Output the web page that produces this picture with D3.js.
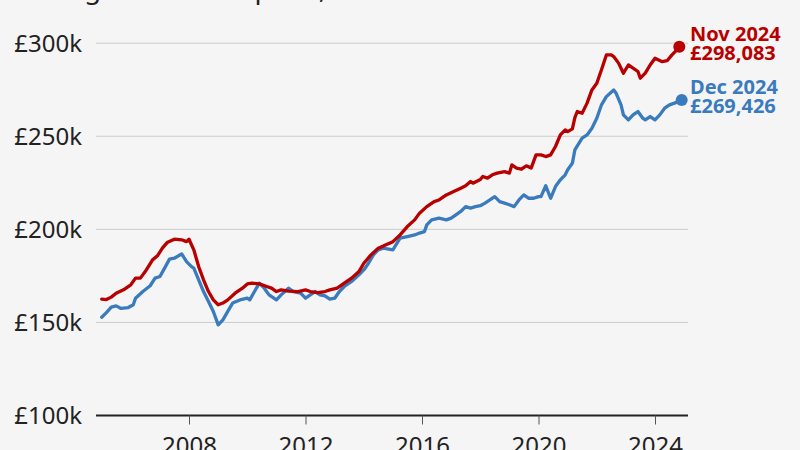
<!DOCTYPE html>
<html>
<head>
<meta charset="utf-8">
<script src="https://cdn.jsdelivr.net/npm/d3@7"></script>
<style>
  html, body { margin: 0; padding: 0; background: #f5f5f5; }
  svg { display: block; }
  text { font-family: "Noto Sans", "Open Sans", sans-serif; }
</style>
</head>
<body>
<svg id="chart" width="800" height="450"></svg>
<script>
// ---- Data (values in £ thousands) ----
const titleText = "Average UK house price, 2005 to 2024";

const redMonths = ["2005-01","2005-03","2005-05","2005-07","2005-10","2006-01","2006-03","2006-05","2006-07","2006-10","2006-12","2007-02","2007-04","2007-07","2007-10","2007-12","2008-01","2008-03","2008-05","2008-07","2008-09","2008-11","2009-01","2009-03","2009-05","2009-08","2009-11","2010-01","2010-03","2010-06","2010-09","2010-11","2011-01","2011-03","2011-06","2011-10","2012-01","2012-03","2012-06","2012-09","2012-11","2013-02","2013-05","2013-08","2013-11","2014-01","2014-04","2014-07","2014-09","2015-01","2015-04","2015-07","2015-10","2015-12","2016-03","2016-06","2016-08","2016-11","2017-02","2017-05","2017-07","2017-09","2017-10","2018-01","2018-02","2018-04","2018-06","2018-08","2018-11","2019-01","2019-02","2019-04","2019-06","2019-08","2019-10","2019-12","2020-02","2020-04","2020-06","2020-08","2020-10","2020-12","2021-01","2021-03","2021-04","2021-05","2021-07","2021-09","2021-11","2022-01","2022-03","2022-05","2022-07","2022-08","2022-10","2022-12","2023-02","2023-04","2023-06","2023-07","2023-09","2023-11","2024-01","2024-04","2024-06","2024-08","2024-10","2024-11"];
const redValues = [162.5,162.3,163.6,165.7,167.5,170.2,173.8,173.8,177.3,183.6,185.8,189.9,192.9,194.7,194.4,193.4,194.7,189.0,180.0,172.9,166.6,162.1,159.5,160.4,162.1,165.7,168.4,170.7,171.1,170.7,169.3,168.4,166.6,167.5,166.8,166.6,167.5,166.6,166.0,166.6,167.5,168.4,171.1,173.8,177.3,181.8,186.3,189.9,191.0,193.4,197.0,201.5,205.1,208.7,212.2,214.9,215.8,218.5,220.3,222.1,223.4,225.7,224.8,226.8,228.4,227.5,229.3,230.2,231.0,230.2,234.6,232.9,232.3,234.1,232.9,240.0,240.0,239.1,240.0,244.5,250.7,253.4,252.5,254.0,260.0,263.3,262.4,267.8,274.9,278.5,285.7,293.7,293.7,292.8,289.3,283.9,288.3,286.6,284.8,281.2,283.9,288.3,291.9,290.1,290.6,293.7,296.4,298.083];

const blueMonths = ["2005-01","2005-03","2005-05","2005-07","2005-09","2005-12","2006-02","2006-03","2006-06","2006-09","2006-11","2007-01","2007-03","2007-05","2007-07","2007-10","2007-12","2008-02","2008-03","2008-05","2008-07","2008-09","2008-11","2009-01","2009-03","2009-05","2009-07","2009-10","2010-01","2010-02","2010-04","2010-06","2010-08","2010-10","2011-01","2011-03","2011-06","2011-08","2011-11","2012-01","2012-03","2012-05","2012-07","2012-09","2012-11","2013-01","2013-03","2013-05","2013-08","2013-11","2014-01","2014-03","2014-05","2014-07","2014-09","2015-01","2015-04","2015-07","2015-10","2015-12","2016-02","2016-03","2016-05","2016-08","2016-11","2017-01","2017-03","2017-05","2017-07","2017-09","2017-11","2018-01","2018-03","2018-05","2018-07","2018-09","2018-11","2019-01","2019-03","2019-05","2019-07","2019-09","2019-11","2020-01","2020-02","2020-04","2020-06","2020-08","2020-10","2020-12","2021-01","2021-03","2021-04","2021-07","2021-09","2021-11","2022-01","2022-03","2022-05","2022-08","2022-09","2022-11","2022-12","2023-02","2023-04","2023-06","2023-08","2023-09","2023-11","2024-01","2024-03","2024-05","2024-07","2024-09","2024-12"];
const blueValues = [152.8,155.3,158.2,158.9,157.5,158.0,159.5,163.0,166.6,169.7,173.8,174.7,179.2,184.0,184.5,186.8,182.7,180.0,179.2,172.9,166.6,161.2,155.9,148.7,151.4,155.9,160.4,162.1,163.0,162.1,166.6,171.1,168.4,164.8,162.1,164.8,168.4,166.6,165.7,163.0,164.8,166.6,164.8,164.3,162.5,163.0,166.6,169.3,172.0,175.6,178.2,181.8,186.3,189.0,189.9,189.0,195.3,196.1,197.0,198.0,198.8,202.4,205.1,206.0,205.1,206.0,207.8,209.6,212.2,211.4,212.2,212.7,214.1,215.8,217.6,214.9,214.1,213.2,212.2,215.8,218.5,216.7,216.7,217.6,217.6,223.4,216.7,223.0,226.6,229.3,232.0,235.6,242.7,249.0,250.7,254.3,259.7,266.9,271.3,274.9,273.1,266.9,261.5,258.8,261.5,263.3,259.7,258.8,260.6,258.8,261.5,265.1,266.9,267.8,269.426];

const yTicks = [100, 150, 200, 250, 300];
const xTickYears = [2008, 2012, 2016, 2020, 2024];
const redLabel = ["Nov 2024", "£298,083"];
const blueLabel = ["Dec 2024", "£269,426"];

// ---- Drawing ----
const svg = d3.select("#chart");
const parse = d3.timeParse("%Y-%m");
const red = redMonths.map((m, i) => ({ date: parse(m), value: redValues[i] }));
const blue = blueMonths.map((m, i) => ({ date: parse(m), value: blueValues[i] }));

const RED = "#b80000", BLUE = "#3a7bbd";
const plotLeft = 96, plotRight = 688;

const x = d3.scaleTime()
  .domain([new Date(2005, 0, 1), new Date(2024, 0, 1)])
  .range([101.7, 655]);
const y = d3.scaleLinear().domain([100, 300]).range([415.5, 43.2]);

// title (mostly off the top edge, as in the reference)
svg.append("text")
  .attr("x", 11).attr("y", -2.5)
  .attr("font-size", 27.5).attr("fill", "#222")
  .text(titleText);

// gridlines + y labels
const yAxis = svg.append("g");
yTicks.forEach(t => {
  yAxis.append("line")
    .attr("x1", plotLeft).attr("x2", plotRight)
    .attr("y1", y(t)).attr("y2", y(t))
    .attr("stroke", t === 100 ? "#222" : "#cccccc")
    .attr("stroke-width", t === 100 ? 2.2 : 1);
  yAxis.append("text")
    .attr("x", 82).attr("y", y(t)).attr("dy", "0.36em")
    .attr("text-anchor", "end")
    .attr("font-size", 24).attr("fill", "#222")
    .text("£" + t + "k");
});

// x axis ticks
const xAxis = svg.append("g").attr("transform", `translate(0,${y(100)})`)
  .call(d3.axisBottom(x)
    .tickValues(xTickYears.map(yr => new Date(yr, 0, 1)))
    .tickFormat(d3.timeFormat("%Y"))
    .tickSize(9).tickPadding(12));
xAxis.select(".domain").remove();
xAxis.selectAll(".tick line").attr("stroke", "#555");
xAxis.selectAll(".tick text")
  .attr("font-size", 24).attr("fill", "#222")
  .attr("font-family", "Noto Sans, Open Sans, sans-serif");

// lines
const line = d3.line().x(d => x(d.date)).y(d => y(d.value)).curve(d3.curveLinear);
[[blue, BLUE], [red, RED]].forEach(([data, col]) => {
  svg.append("path").datum(data)
    .attr("d", line)
    .attr("fill", "none").attr("stroke", col)
    .attr("stroke-width", 3.3).attr("stroke-linejoin", "round").attr("stroke-linecap", "round");
});

// end dots + labels
[[red, RED, redLabel], [blue, BLUE, blueLabel]].forEach(([data, col, lab]) => {
  const last = data[data.length - 1];
  const cx = x(last.date), cy = y(last.value);
  svg.append("circle").attr("cx", cx).attr("cy", cy).attr("r", 6).attr("fill", col);
  const t = svg.append("text")
    .attr("x", 690).attr("y", cy - 6)
    .attr("font-size", 20).attr("font-weight", "bold").attr("fill", col);
  t.append("tspan").attr("x", 690).text(lab[0]);
  t.append("tspan").attr("x", 690).attr("dy", 19).text(lab[1]);
});
</script>
</body>
</html>
